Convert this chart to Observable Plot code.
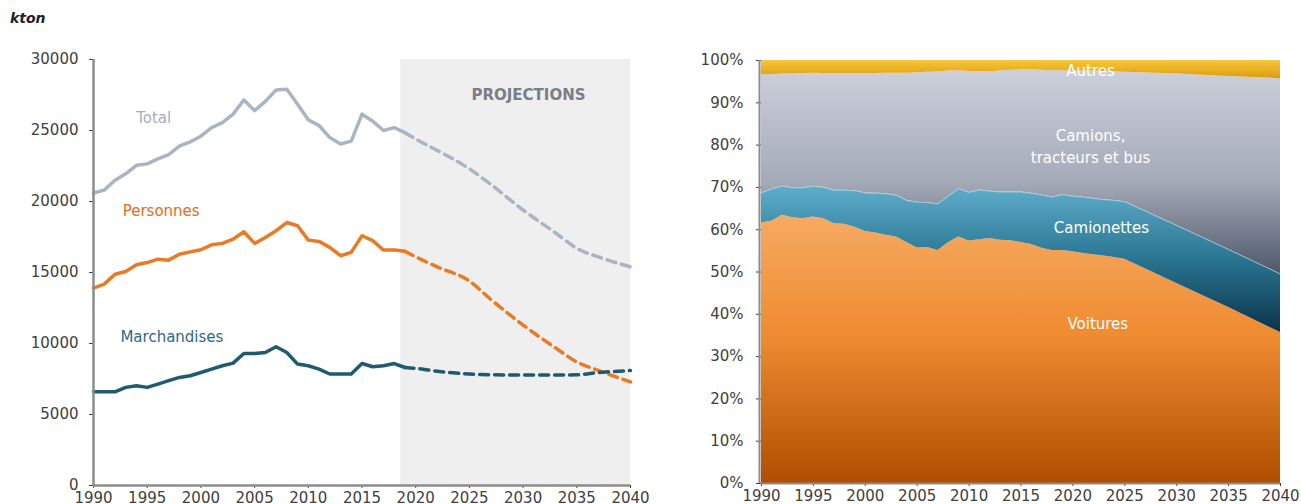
<!DOCTYPE html>
<html>
<head>
<meta charset="utf-8">
<script src="https://cdn.jsdelivr.net/npm/d3@7"></script>
<script src="https://cdn.jsdelivr.net/npm/@observablehq/plot@0.6"></script>
<style>
  html, body { margin: 0; padding: 0; background: #fff; }
  #wrap { position: relative; width: 1301px; height: 504px; overflow: hidden; font-family: "DejaVu Sans", sans-serif; }
  #unit { position: absolute; left: 10px; top: 9px; line-height: 18px; font-size: 14px; font-weight: bold; font-style: italic; color: #222; }
  #left { position: absolute; left: 0; top: 0; }
  #right { position: absolute; left: 660px; top: 0; }
</style>
</head>
<body>
<div id="wrap">
  <div id="unit">kton</div>
  <div id="left"></div>
  <div id="right"></div>
</div>
<script>
// ---------- Emissions (kton): observed years ----------
const histYears = [1990, 1991, 1992, 1993, 1994, 1995, 1996, 1997, 1998, 1999,
                   2000, 2001, 2002, 2003, 2004, 2005, 2006, 2007, 2008, 2009,
                   2010, 2011, 2012, 2013, 2014, 2015, 2016, 2017, 2018, 2019];
const totalHist = [20600, 20800, 21500, 21950, 22550, 22650, 23000, 23300, 23900, 24200,
                   24600, 25200, 25550, 26150, 27150, 26400, 27050, 27850, 27900, 26850,
                   25750, 25350, 24500, 24050, 24250, 26150, 25650, 25000, 25200, 24850];
const personnesHist = [13900, 14180, 14880, 15070, 15540, 15700, 15940, 15870, 16290, 16450,
                       16600, 16950, 17050, 17350, 17870, 17050, 17470, 17940, 18520, 18290,
                       17280, 17190, 16770, 16180, 16420, 17590, 17240, 16580, 16580, 16490];
const marchHist = [6600, 6600, 6600, 6910, 7030, 6910, 7140, 7380, 7610, 7730,
                   7960, 8200, 8430, 8620, 9300, 9300, 9370, 9770, 9370, 8550,
                   8430, 8200, 7850, 7850, 7850, 8590, 8360, 8430, 8590, 8310];

// ---------- Emissions (kton): projections ----------
const projYears = [2019, 2020, 2022, 2025, 2027, 2030, 2033, 2035, 2037, 2040];
const totalProj = [24850, 24400, 23600, 22300, 21200, 19400, 17800, 16700, 16100, 15400];
const personnesProj = [16490, 16100, 15400, 14400, 13100, 11300, 9700, 8700, 8100, 7300];
const marchProj = [8310, 8250, 8050, 7850, 7800, 7780, 7780, 7800, 7950, 8100];
const projectionStart = 2018.6;

const seriesNames = ["Total", "Personnes", "Marchandises"];
const seriesColors = ["#a9b4c4", "#ea7a24", "#1f5b70"];
const labelColors = ["#a3afc0", "#e36c1e", "#2d6a80"];

const xTicks = [1990, 1995, 2000, 2005, 2010, 2015, 2020, 2025, 2030, 2035, 2040];
const yTicksKton = [0, 5000, 10000, 15000, 20000, 25000, 30000];

// ---------- Shares by vehicle type (%) ----------
const shareYears = [1990, 1991, 1992, 1993, 1994, 1995, 1996, 1997, 1998, 1999,
                    2000, 2001, 2002, 2003, 2004, 2005, 2006, 2007, 2008, 2009,
                    2010, 2011, 2012, 2013, 2014, 2015, 2016, 2017, 2018, 2019,
                    2020, 2021, 2022, 2023, 2024, 2025, 2030, 2035, 2040];
const voitures = [61.6, 62.0, 63.4, 62.8, 62.6, 63.0, 62.6, 61.4, 61.3, 60.6,
                  59.6, 59.2, 58.7, 58.3, 57.0, 55.7, 55.8, 55.1, 56.9, 58.3,
                  57.3, 57.6, 57.9, 57.5, 57.4, 57.0, 56.5, 55.6, 55.1, 55.1,
                  54.8, 54.4, 54.1, 53.8, 53.4, 53.0, 47.3, 41.6, 35.7];
const camionettes = [7.1, 7.6, 6.9, 7.1, 7.3, 7.3, 7.4, 7.9, 8.0, 8.6,
                     9.1, 9.4, 9.8, 9.8, 9.9, 10.8, 10.6, 11.0, 11.0, 11.4,
                     11.5, 11.8, 11.2, 11.4, 11.5, 11.9, 12.1, 12.6, 12.6, 13.2,
                     13.1, 13.3, 13.3, 13.3, 13.5, 13.6, 13.7, 13.7, 13.8];
const camions = [27.9, 27.1, 26.5, 26.9, 27.0, 26.7, 26.9, 27.6, 27.6, 27.7,
                 28.2, 28.3, 28.5, 28.9, 30.1, 30.6, 30.8, 31.2, 29.6, 27.9,
                 28.6, 28.0, 28.2, 28.6, 28.8, 28.9, 29.2, 29.5, 29.9, 29.3,
                 29.7, 29.8, 30.1, 30.3, 30.4, 30.6, 35.8, 40.9, 46.2];
const autres = [3.4, 3.3, 3.2, 3.2, 3.1, 3.0, 3.1, 3.1, 3.1, 3.1,
                3.1, 3.1, 3.0, 3.0, 3.0, 2.9, 2.8, 2.7, 2.5, 2.4,
                2.6, 2.6, 2.7, 2.5, 2.3, 2.2, 2.2, 2.3, 2.4, 2.4,
                2.4, 2.5, 2.5, 2.6, 2.7, 2.8, 3.2, 3.8, 4.3];
const categories = ["Voitures", "Camionettes", "Camions", "Autres"];
const yTicksPct = [0, 10, 20, 30, 40, 50, 60, 70, 80, 90, 100];

// vertical gradients used to fill each stacked band
const gradients = [
  {id: "gVoit", stops: [[0, "#f6aa62"], [0.45, "#ef8b30"], [1, "#b04e00"]]},
  {id: "gCamio", stops: [[0, "#5eaecb"], [0.5, "#2a7592"], [1, "#0b344a"]]},
  {id: "gCamions", stops: [[0, "#cdd0db"], [0.55, "#a4aab8"], [1, "#4e586a"]]},
  {id: "gAutres", stops: [[0, "#f7c73a"], [1, "#dc9c10"]]}
];

// ---------- Tables ----------
const toRows = (years, values, series) => years.map((year, i) => ({year, value: values[i], series}));
const histRows = [
  ...toRows(histYears, totalHist, "Total"),
  ...toRows(histYears, personnesHist, "Personnes"),
  ...toRows(histYears, marchHist, "Marchandises")
];
const projRows = [
  ...toRows(projYears, totalProj, "Total"),
  ...toRows(projYears, personnesProj, "Personnes"),
  ...toRows(projYears, marchProj, "Marchandises")
];

const shareRows = [];
shareYears.forEach((year, i) => {
  shareRows.push({year, cat: "Voitures", share: voitures[i]});
  shareRows.push({year, cat: "Camionettes", share: camionettes[i]});
  shareRows.push({year, cat: "Camions", share: camions[i]});
  shareRows.push({year, cat: "Autres", share: autres[i]});
});
// upper edge of the van band, traced with a faint highlight
const vanEdge = shareYears.map((year, i) => ({year, top: voitures[i] + camionettes[i]}));

const axisGray = "#8c8c8c";
const baseStyle = {fontFamily: "DejaVu Sans, sans-serif", fontSize: "15px", color: "#404040", background: "transparent"};

// ---------- Left: emissions in kton ----------
const left = Plot.plot({
  width: 660,
  height: 504,
  marginLeft: 93,
  marginRight: 30,
  marginTop: 59,
  marginBottom: 19,
  style: baseStyle,
  x: {domain: [1990, 2040], ticks: xTicks, tickFormat: d => String(d), tickSize: 3, tickPadding: 4, label: null},
  y: {domain: [0, 30000], ticks: yTicksKton, tickFormat: d => String(d), tickSize: 4, tickPadding: 11, label: null},
  color: {domain: seriesNames, range: seriesColors},
  marks: [
    Plot.rect([{x1: projectionStart, x2: 2040, y1: 0, y2: 30000}], {x1: "x1", x2: "x2", y1: "y1", y2: "y2", fill: "#efefef"}),
    Plot.text(["PROJECTIONS"], {x: 2030.5, y: 27460, text: d => d, fill: "#7a7e86", fontWeight: "bold", fontSize: 15}),
    Plot.lineY(projRows, {x: "year", y: "value", z: "series", stroke: "series", strokeWidth: 3.5,
      strokeDasharray: "9,6", curve: "monotone-x"}),
    Plot.lineY(histRows, {x: "year", y: "value", z: "series", stroke: "series", strokeWidth: 3.5,
      strokeLinejoin: "round", strokeLinecap: "round"}),
    Plot.ruleX([1990], {stroke: axisGray, strokeWidth: 2.5}),
    Plot.ruleY([0], {stroke: axisGray, strokeWidth: 2.5}),
    Plot.text([
      {x: 1995.6, y: 25850, t: seriesNames[0], c: labelColors[0]},
      {x: 1996.3, y: 19300, t: seriesNames[1], c: labelColors[1]},
      {x: 1997.3, y: 10420, t: seriesNames[2], c: labelColors[2]}
    ], {x: "x", y: "y", text: "t", fill: "c", fontSize: 15})
  ]
});
document.getElementById("left").appendChild(left);

// ---------- Right: shares by vehicle type ----------
function gradientDefs() {
  const defs = d3.create("svg:defs");
  for (const g of gradients) {
    const lg = defs.append("linearGradient").attr("id", g.id)
      .attr("x1", 0).attr("y1", 0).attr("x2", 0).attr("y2", 1);
    for (const [o, c] of g.stops) lg.append("stop").attr("offset", o).attr("stop-color", c);
  }
  return defs.node();
}

const right = Plot.plot({
  width: 641,
  height: 504,
  marginLeft: 101,
  marginRight: 21,
  marginTop: 60,
  marginBottom: 21,
  style: baseStyle,
  x: {domain: [1990, 2040], ticks: xTicks, tickFormat: d => String(d), tickSize: 3, tickPadding: 4, label: null},
  y: {domain: [0, 100], ticks: yTicksPct, tickFormat: d => d + "%", tickSize: 5, tickPadding: 13, label: null},
  color: {domain: categories, range: gradients.map(g => `url(#${g.id})`)},
  marks: [
    gradientDefs,
    Plot.areaY(shareRows, {x: "year", y: "share", z: "cat", fill: "cat", order: categories}),
    Plot.lineY(vanEdge, {x: "year", y: "top", stroke: "#d6e2ea", strokeOpacity: 0.7, strokeWidth: 0.8}),
    Plot.ruleX([1990], {dx: -2, stroke: axisGray, strokeWidth: 2}),
    Plot.ruleY([0], {stroke: axisGray, strokeWidth: 2}),
    Plot.text([
      {x: 2021.7, y: 97.9, t: "Autres"},
      {x: 2021.7, y: 80.0, t: "Camions,\ntracteurs et bus"},
      {x: 2022.75, y: 60.8, t: "Camionettes"},
      {x: 2022.4, y: 38.2, t: "Voitures"}
    ], {x: "x", y: "y", text: "t", fill: "white", fontSize: 15, lineHeight: 1.45})
  ]
});
document.getElementById("right").appendChild(right);
</script>
</body>
</html>
